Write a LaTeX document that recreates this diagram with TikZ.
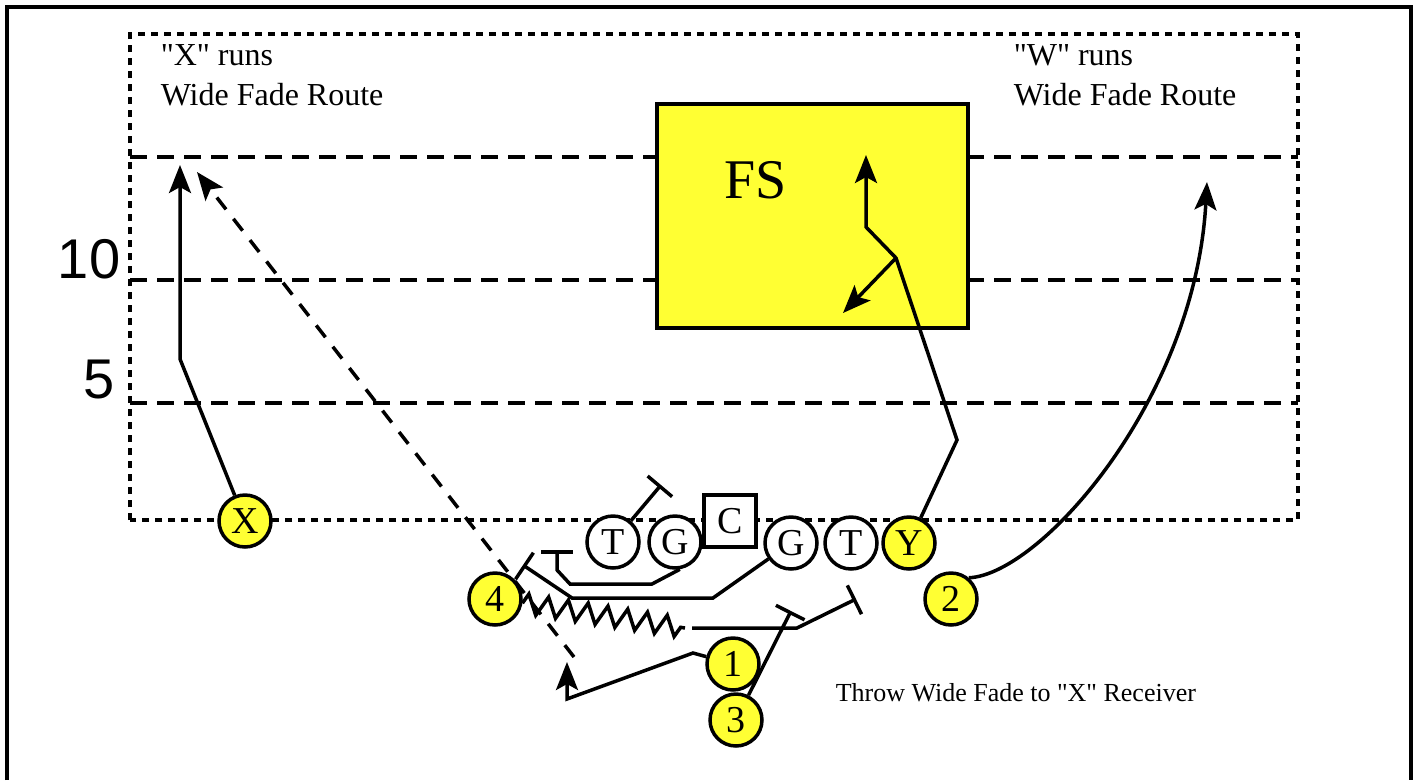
\documentclass[tikz,border=0pt]{standalone}
\usepackage{fontspec}
\setmainfont{Liberation Serif}[Ligatures=TeXOff]
\newfontfamily\yardfont{Liberation Sans}
\usepackage{tikz}
\usetikzlibrary{arrows.meta,decorations.pathmorphing}
\usepackage{xcolor}
\definecolor{playeryellow}{RGB}{255,255,51}

\begin{document}
\begin{tikzpicture}[x=1pt, y=-1pt, line width=3.5pt,
    >={Stealth[length=28pt,width=22pt,inset=6pt]},
    player/.style={circle, draw, fill=playeryellow, minimum size=52pt, inner sep=0pt, font=\fontsize{38}{38}\selectfont},
    lineman/.style={player, fill=white},
    block/.style={-{Bar[width=32pt]}},
    yardline/.style={dash pattern=on 17pt off 10pt},
    fieldedge/.style={dash pattern=on 7pt off 6pt},
    pass/.style={->, dash pattern=on 15pt off 12pt},
    note/.style={font=\fontsize{32}{40}\selectfont, align=left, anchor=north west, inner sep=0pt},
    yardnum/.style={font=\yardfont\fontsize{56}{56}\selectfont, anchor=base east, inner sep=0pt}]
    \useasboundingbox (0,0) rectangle (1419,780);
    \draw (7,780) -- (7,7) -- (1411,7) -- (1411,780);
    % field
    \draw[fieldedge] (130,520) -- (130,34) -- (1298,34) -- (1298,520) -- cycle;
    \foreach \yy in {157,280,403}
      \draw[yardline] (130,\yy) -- (1298,\yy);
    \node[yardnum] (ten) at (122,278) {10};
    \node[yardnum] (five) at (116,398) {5};
    \node[note] (xnote) at (159,43) {"X" runs\\Wide Fade Route};
    \node[note] (wnote) at (1012,43) {"W" runs\\Wide Fade Route};
    \node[draw, fill=playeryellow, minimum width=311pt, minimum height=224pt, inner sep=0pt] (fs) at (812.5,216) {};
    \node[font=\fontsize{56}{56}\selectfont, anchor=base west, inner sep=0pt] (fstext) at (723,198) {FS};
    % players
    \node[player] (X) at (245,521) {X};
    \node[lineman] (lt) at (613,542) {T};
    \node[lineman] (lg) at (675,542) {G};
    \node[draw, fill=white, minimum size=52pt, inner sep=0pt, font=\fontsize{38}{38}\selectfont] (C) at (730,521) {C};
    \node[lineman] (rg) at (791,543) {G};
    \node[lineman] (rt) at (851,543) {T};
    \node[player] (Y) at (909,543) {Y};
    \node[player] (b4) at (495,599) {4};
    \node[player] (b1) at (733,664) {1};
    \node[player] (b3) at (736,720) {3};
    \node[player] (W) at (951,599) {2};
    % routes
    \draw[->] (X) -- (180,359) -- (180,165);
    \coordinate (throw) at (574,657);
    \coordinate (catch) at (197,172);
    \draw[pass] (throw) -- (catch);
    \coordinate (ycut) at (896,258);
    \draw[->] (Y) -- (957,440) -- (ycut) -- (866,227) -- (866,155);
    \draw[->] (ycut) -- (843,313);
    \draw[->] (W.50) .. controls (1040,575) and (1195,400) .. (1207,182);
    % blocks
    \draw[block] (lt) -- (661,485);
    \draw[block] (lg.-80) -- (652,584) -- (570,584) -- (557,570) -- (557,550);
    \draw[block] (rg) -- (713,598) -- (572,598) -- (523,565);
    \coordinate (kickout) at (692,628);
    \draw[decorate, decoration={zigzag, segment length=20pt, amplitude=10pt}] (b4) -- (685,628);
    \draw[block] (kickout) -- (797,628) -- (856,599);
    \draw[block] (b3) -- (791,611);
    \draw[->] (b1) -- (693,653) -- (567,699) -- (567,662);
    \node[font=\fontsize{26}{26}\selectfont, anchor=base west, inner sep=0pt] (call) at (834,701) {Throw Wide Fade to "X" Receiver};
\end{tikzpicture}
\end{document}
